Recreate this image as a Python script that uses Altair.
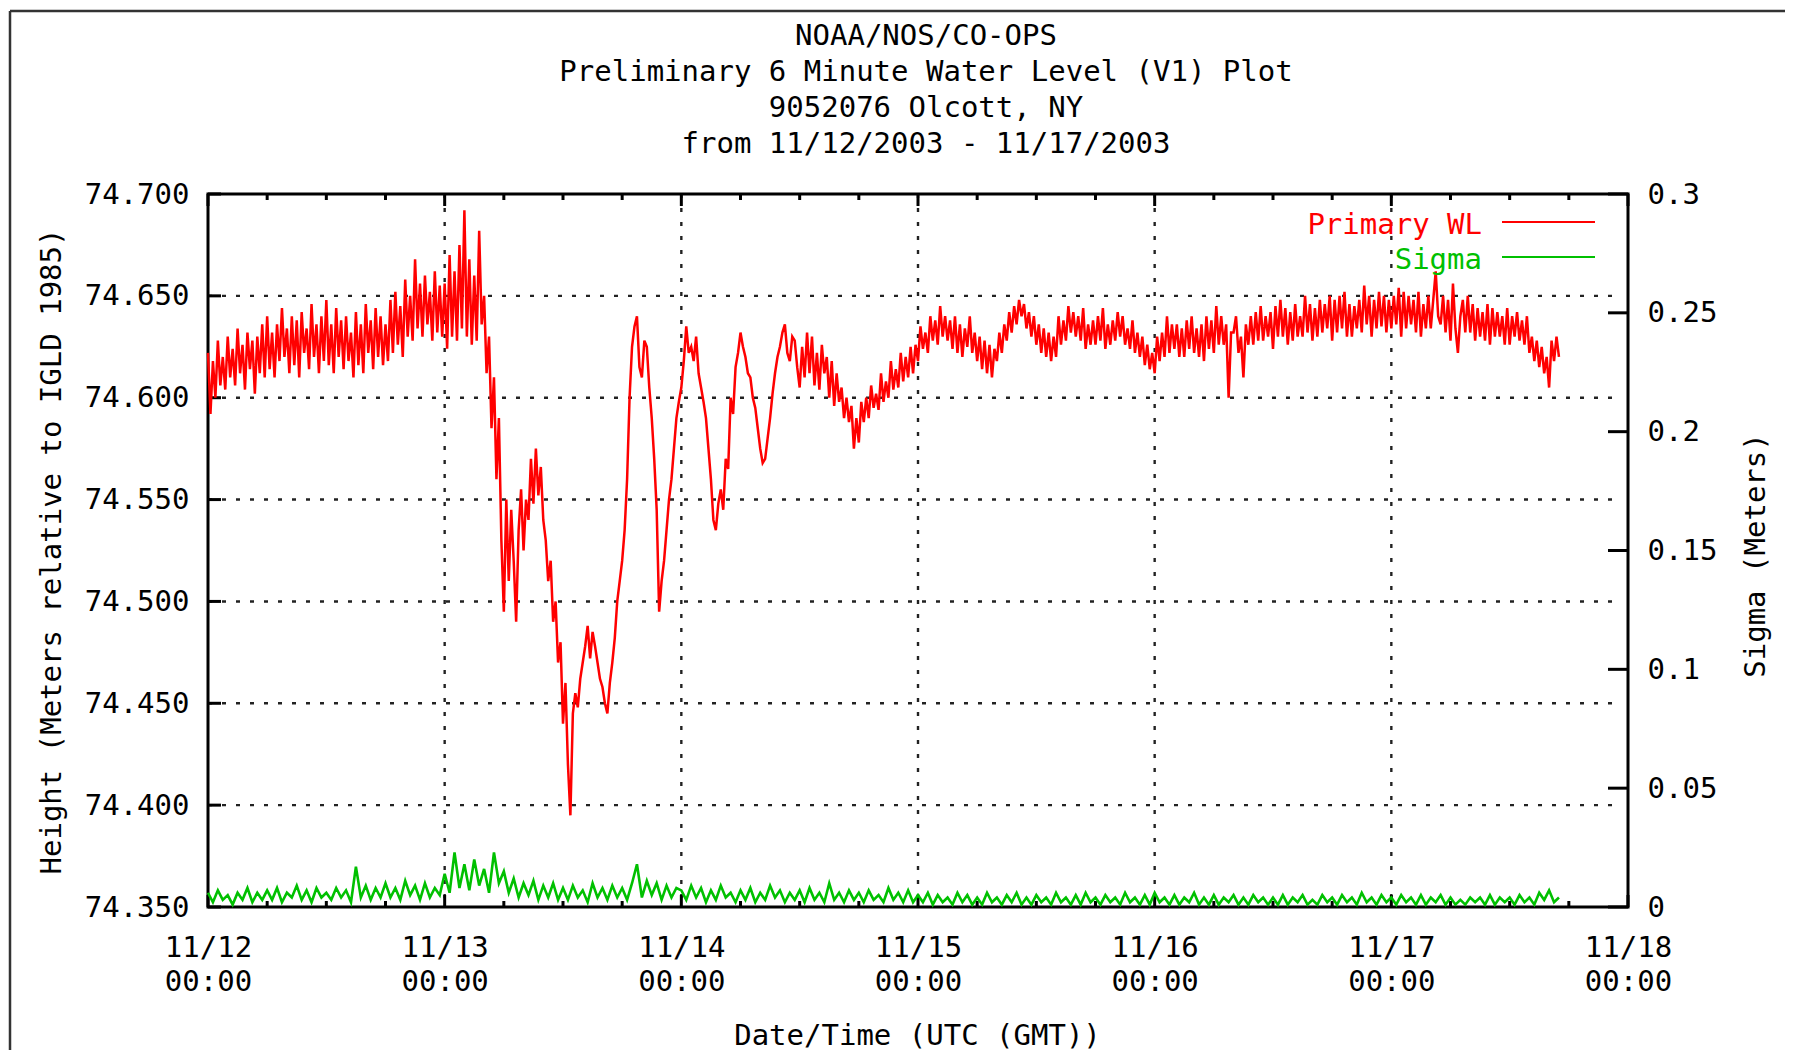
import altair as alt
import pandas as pd

MONO = "DejaVu Sans Mono"
FS = 29

TITLE_LINES = [
    "NOAA/NOS/CO-OPS",
    "Preliminary 6 Minute Water Level (V1) Plot",
    "9052076 Olcott, NY",
    "from 11/12/2003 - 11/17/2003",
]
X_TITLE = "Date/Time (UTC (GMT))"
Y_TITLE = "Height (Meters relative to IGLD 1985)"
Y2_TITLE = "Sigma (Meters)"

WL_STEP_HOURS = 0.25     # spacing of the read-off water-level samples, hours after 11/12 00:00
SIGMA_STEP_HOURS = 0.5   # spacing of the read-off sigma samples

# Primary water level (m, IGLD 1985), one row = 3 hours
WL = [
    74.622, 74.592, 74.618, 74.600, 74.628, 74.606, 74.620, 74.604, 74.630, 74.610, 74.624, 74.606,
    74.634, 74.612, 74.626, 74.604, 74.632, 74.614, 74.628, 74.602, 74.630, 74.612, 74.636, 74.610,
    74.640, 74.614, 74.632, 74.610, 74.636, 74.618, 74.644, 74.620, 74.634, 74.612, 74.640, 74.616,
    74.638, 74.610, 74.642, 74.622, 74.634, 74.614, 74.646, 74.620, 74.636, 74.612, 74.640, 74.618,
    74.648, 74.616, 74.636, 74.612, 74.644, 74.620, 74.638, 74.614, 74.640, 74.618, 74.632, 74.610,
    74.642, 74.616, 74.636, 74.612, 74.646, 74.622, 74.638, 74.614, 74.644, 74.620, 74.640, 74.616,
    74.636, 74.618, 74.648, 74.622, 74.652, 74.626, 74.645, 74.620, 74.658, 74.630, 74.650, 74.628,
    74.668, 74.634, 74.656, 74.630, 74.660, 74.636, 74.652, 74.628, 74.662, 74.632, 74.655, 74.630,
    74.656, 74.624, 74.670, 74.630, 74.662, 74.628, 74.675, 74.634, 74.692, 74.630, 74.668, 74.626,
    74.660, 74.628, 74.682, 74.636, 74.650, 74.612, 74.630, 74.585, 74.610, 74.560, 74.590, 74.530,
    74.495, 74.550, 74.510, 74.545, 74.520, 74.490, 74.535, 74.555, 74.525, 74.550, 74.540, 74.570,
    74.548, 74.575, 74.552, 74.566, 74.540, 74.530, 74.510, 74.520, 74.490, 74.500, 74.470, 74.480,
    74.440, 74.460, 74.420, 74.395, 74.445, 74.455, 74.448, 74.462, 74.470, 74.478, 74.488, 74.472,
    74.485, 74.478, 74.470, 74.462, 74.458, 74.450, 74.445, 74.460, 74.470, 74.482, 74.500, 74.510,
    74.520, 74.535, 74.560, 74.600, 74.625, 74.635, 74.640, 74.615, 74.610, 74.628, 74.625, 74.605,
    74.590, 74.570, 74.545, 74.495, 74.510, 74.520, 74.535, 74.550, 74.560, 74.575, 74.590, 74.598,
    74.605, 74.618, 74.635, 74.622, 74.625, 74.618, 74.630, 74.612, 74.605, 74.598, 74.590, 74.575,
    74.560, 74.540, 74.535, 74.548, 74.555, 74.545, 74.570, 74.565, 74.600, 74.592, 74.615, 74.622,
    74.632, 74.625, 74.620, 74.612, 74.610, 74.600, 74.595, 74.585, 74.575, 74.568, 74.570, 74.580,
    74.590, 74.602, 74.612, 74.620, 74.625, 74.632, 74.636, 74.622, 74.618, 74.630, 74.628, 74.615,
    74.605, 74.625, 74.610, 74.632, 74.612, 74.630, 74.606, 74.622, 74.604, 74.626, 74.612, 74.620,
    74.600, 74.618, 74.596, 74.612, 74.598, 74.605, 74.590, 74.600, 74.588, 74.596, 74.575, 74.590,
    74.578, 74.598, 74.588, 74.600, 74.590, 74.606, 74.595, 74.602, 74.594, 74.612, 74.598, 74.608,
    74.600, 74.618, 74.604, 74.614, 74.605, 74.622, 74.608, 74.620, 74.610, 74.625, 74.612, 74.626,
    74.618, 74.635, 74.624, 74.632, 74.622, 74.640, 74.628, 74.638, 74.626, 74.645, 74.630, 74.640,
    74.628, 74.638, 74.624, 74.640, 74.622, 74.636, 74.620, 74.634, 74.625, 74.640, 74.622, 74.632,
    74.618, 74.630, 74.614, 74.628, 74.612, 74.626, 74.610, 74.624, 74.618, 74.632, 74.622, 74.636,
    74.628, 74.642, 74.632, 74.645, 74.636, 74.648, 74.640, 74.646, 74.634, 74.642, 74.630, 74.640,
    74.626, 74.636, 74.622, 74.634, 74.620, 74.632, 74.618, 74.630, 74.620, 74.640, 74.626, 74.638,
    74.628, 74.645, 74.632, 74.642, 74.630, 74.640, 74.628, 74.644, 74.624, 74.636, 74.626, 74.638,
    74.626, 74.640, 74.628, 74.644, 74.624, 74.636, 74.626, 74.638, 74.628, 74.642, 74.630, 74.640,
    74.626, 74.634, 74.624, 74.638, 74.622, 74.632, 74.620, 74.630, 74.616, 74.626, 74.614, 74.622,
    74.612, 74.630, 74.618, 74.632, 74.620, 74.640, 74.622, 74.636, 74.624, 74.636, 74.620, 74.634,
    74.620, 74.638, 74.624, 74.640, 74.622, 74.634, 74.620, 74.636, 74.618, 74.640, 74.624, 74.638,
    74.622, 74.645, 74.626, 74.640, 74.626, 74.636, 74.600, 74.632, 74.632, 74.640, 74.622, 74.630,
    74.610, 74.636, 74.626, 74.640, 74.626, 74.642, 74.628, 74.645, 74.628, 74.640, 74.630, 74.642,
    74.624, 74.645, 74.630, 74.648, 74.630, 74.644, 74.626, 74.642, 74.628, 74.646, 74.630, 74.640,
    74.630, 74.650, 74.632, 74.646, 74.628, 74.644, 74.630, 74.648, 74.632, 74.646, 74.634, 74.650,
    74.628, 74.648, 74.632, 74.650, 74.634, 74.652, 74.630, 74.646, 74.630, 74.645, 74.634, 74.648,
    74.632, 74.655, 74.636, 74.650, 74.630, 74.648, 74.634, 74.652, 74.635, 74.650, 74.632, 74.648,
    74.634, 74.650, 74.636, 74.654, 74.630, 74.652, 74.634, 74.650, 74.636, 74.648, 74.632, 74.652,
    74.630, 74.646, 74.634, 74.650, 74.634, 74.648, 74.662, 74.640, 74.636, 74.650, 74.632, 74.648,
    74.628, 74.656, 74.634, 74.622, 74.640, 74.648, 74.632, 74.650, 74.632, 74.646, 74.628, 74.644,
    74.630, 74.642, 74.628, 74.646, 74.626, 74.644, 74.630, 74.642, 74.630, 74.640, 74.626, 74.644,
    74.626, 74.640, 74.630, 74.642, 74.628, 74.638, 74.626, 74.640, 74.622, 74.630, 74.618, 74.628,
    74.615, 74.625, 74.612, 74.620, 74.605, 74.628, 74.618, 74.630, 74.620,
]

# Sigma (m), one row = 6 hours
SIGMA = [
    0.006, 0.002, 0.007, 0.003, 0.005, 0.001, 0.006, 0.003, 0.008, 0.002, 0.006, 0.003,
    0.007, 0.003, 0.008, 0.002, 0.006, 0.004, 0.009, 0.003, 0.007, 0.002, 0.008, 0.004,
    0.006, 0.003, 0.008, 0.004, 0.007, 0.002, 0.017, 0.004, 0.009, 0.003, 0.008, 0.004,
    0.010, 0.004, 0.008, 0.003, 0.011, 0.005, 0.009, 0.003, 0.010, 0.004, 0.008, 0.005,
    0.014, 0.006, 0.023, 0.008, 0.018, 0.007, 0.020, 0.009, 0.016, 0.006, 0.023, 0.010,
    0.015, 0.006, 0.012, 0.004, 0.010, 0.005, 0.011, 0.003, 0.009, 0.004, 0.010, 0.003,
    0.008, 0.003, 0.009, 0.004, 0.007, 0.002, 0.010, 0.004, 0.008, 0.003, 0.009, 0.004,
    0.008, 0.003, 0.010, 0.018, 0.004, 0.011, 0.005, 0.010, 0.003, 0.009, 0.004, 0.008,
    0.007, 0.003, 0.009, 0.004, 0.008, 0.002, 0.007, 0.003, 0.009, 0.004, 0.006, 0.002,
    0.007, 0.003, 0.008, 0.002, 0.006, 0.003, 0.009, 0.004, 0.007, 0.002, 0.006, 0.003,
    0.007, 0.002, 0.008, 0.003, 0.006, 0.002, 0.010, 0.003, 0.006, 0.002, 0.007, 0.003,
    0.006, 0.002, 0.007, 0.003, 0.005, 0.002, 0.008, 0.003, 0.006, 0.002, 0.007, 0.002,
    0.005, 0.002, 0.006, 0.001, 0.005, 0.002, 0.004, 0.001, 0.006, 0.002, 0.005, 0.001,
    0.004, 0.001, 0.006, 0.002, 0.004, 0.001, 0.005, 0.002, 0.006, 0.001, 0.004, 0.001,
    0.005, 0.002, 0.004, 0.001, 0.006, 0.002, 0.004, 0.001, 0.005, 0.001, 0.006, 0.002,
    0.004, 0.001, 0.005, 0.002, 0.004, 0.001, 0.006, 0.002, 0.004, 0.001, 0.005, 0.001,
    0.006, 0.002, 0.004, 0.001, 0.005, 0.001, 0.004, 0.002, 0.006, 0.001, 0.004, 0.001,
    0.005, 0.001, 0.004, 0.002, 0.005, 0.001, 0.004, 0.001, 0.005, 0.002, 0.004, 0.001,
    0.004, 0.001, 0.005, 0.001, 0.004, 0.002, 0.005, 0.001, 0.003, 0.001, 0.005, 0.002,
    0.004, 0.001, 0.005, 0.002, 0.004, 0.001, 0.006, 0.002, 0.004, 0.001, 0.005, 0.002,
    0.004, 0.001, 0.005, 0.002, 0.004, 0.001, 0.005, 0.001, 0.004, 0.002, 0.005, 0.001,
    0.004, 0.001, 0.003, 0.001, 0.004, 0.002, 0.004, 0.001, 0.005, 0.001, 0.004, 0.002,
    0.004, 0.001, 0.005, 0.002, 0.004, 0.001, 0.006, 0.003, 0.007, 0.002, 0.004,
]

WL_TICKS = [74.35, 74.40, 74.45, 74.50, 74.55, 74.60, 74.65, 74.70]
WL_GRID = [74.40, 74.45, 74.50, 74.55, 74.60, 74.65]
SIGMA_TICKS = [0, 0.05, 0.1, 0.15, 0.2, 0.25, 0.3]
DAY_TICKS = [0, 24, 48, 72, 96, 120, 144]
DAY_GRID = [24, 48, 72, 96, 120]
SIX_HOUR_TICKS = [6, 12, 18, 30, 36, 42, 54, 60, 66, 78, 84, 90, 102, 108, 114, 126, 132, 138]
LEGEND = [("Primary WL", "#ff0000"), ("Sigma", "#00c000")]

W, H = 1420, 713

wl_df = pd.DataFrame({"h": [i * WL_STEP_HOURS for i in range(len(WL))], "wl": WL})
sig_df = pd.DataFrame({"h": [i * SIGMA_STEP_HOURS for i in range(len(SIGMA))], "sigma": SIGMA})

XS = alt.Scale(domain=[0, 144], nice=False, zero=False)
YL = alt.Scale(domain=[74.35, 74.70], nice=False, zero=False)
YR = alt.Scale(domain=[0, 0.3], nice=False, zero=False)

X_AXIS = alt.Axis(
    values=DAY_TICKS, ticks=False, tickSize=0, domain=False, grid=False,
    labelExpr="['11/' + (12 + datum.value / 24), '00:00']",
    labelFont=MONO, labelFontSize=FS, labelColor="black", labelLineHeight=34,
    labelBaseline="top", labelPadding=26, labelFlush=False, labelOverlap=False, labelBound=False,
    title=X_TITLE, titleFont=MONO, titleFontSize=FS, titleFontWeight="normal", titleColor="black",
    titleX=709, titleY=128, titleBaseline="middle", titleAlign="center", titleAngle=0,
)

def xenc(field="h"):
    return alt.X(f"{field}:Q", scale=XS, axis=X_AXIS)

grid_style = dict(color="#222222", strokeWidth=2.4, strokeDash=[4, 10])

hgrid = alt.Chart(pd.DataFrame({"v": WL_GRID})).mark_rule(**grid_style).encode(
    y=alt.Y("v:Q", scale=YL, axis=None), x=alt.value(0), x2=alt.value(W - 8)
)
vgrid = alt.Chart(pd.DataFrame({"h": DAY_GRID})).mark_rule(**grid_style).encode(
    x=xenc(), y=alt.value(0), y2=alt.value(H)
)

tick_style = dict(color="black", strokeWidth=3)
lticks = alt.Chart(pd.DataFrame({"v": WL_TICKS})).mark_rule(**tick_style).encode(
    y=alt.Y("v:Q", scale=YL, axis=None), x=alt.value(0), x2=alt.value(13)
)
rticks = alt.Chart(pd.DataFrame({"v": SIGMA_TICKS})).mark_rule(**tick_style).encode(
    y=alt.Y("v:Q", scale=YR, axis=None), x=alt.value(W - 20), x2=alt.value(W)
)
day_df = pd.DataFrame({"h": DAY_TICKS})
six_df = pd.DataFrame({"h": SIX_HOUR_TICKS})
xt = []
for df, ln in ((day_df, 12), (six_df, 6)):
    xt.append(alt.Chart(df).mark_rule(**tick_style).encode(x=xenc(), y=alt.value(H), y2=alt.value(H - ln)))
    xt.append(alt.Chart(df).mark_rule(**tick_style).encode(x=xenc(), y=alt.value(0), y2=alt.value(ln)))

red = alt.Chart(wl_df).mark_line(color="#ff0000", strokeWidth=2.5).encode(
    x=xenc(),
    y=alt.Y("wl:Q", scale=YL, axis=alt.Axis(
        orient="left", values=WL_TICKS, format=".3f", ticks=False, tickSize=0, domain=False, grid=False,
        labelFont=MONO, labelFontSize=FS, labelColor="black", labelPadding=19,
        labelBaseline="middle", labelAlign="right", labelFlush=False, labelOverlap=False, labelBound=False,
        title=Y_TITLE, titleFont=MONO, titleFontSize=FS, titleFontWeight="normal", titleColor="black",
        titleX=-157, titleY=357, titleAngle=270, titleAlign="center", titleBaseline="middle",
    )),
)
green = alt.Chart(sig_df).mark_line(color="#00c000", strokeWidth=2.6).encode(
    x=xenc(),
    y=alt.Y("sigma:Q", scale=YR, axis=alt.Axis(
        orient="right", values=SIGMA_TICKS, format="~g", ticks=False, tickSize=0, domain=False, grid=False,
        labelFont=MONO, labelFontSize=FS, labelColor="black", labelPadding=19,
        labelBaseline="middle", labelAlign="left", labelFlush=False, labelOverlap=False, labelBound=False,
        title=Y2_TITLE, titleFont=MONO, titleFontSize=FS, titleFontWeight="normal", titleColor="black",
        titleX=127, titleY=361, titleAngle=270, titleAlign="center", titleBaseline="middle",
    )),
)

legend_layers = []
for i, (lab, col) in enumerate(LEGEND):
    ly = 28 + i * 35
    legend_layers.append(
        alt.Chart(pd.DataFrame({"t": [lab]})).mark_text(
            font=MONO, fontSize=FS, color=col, align="right", baseline="middle"
        ).encode(text="t:N", x=alt.value(1274), y=alt.value(ly + 3))
    )
    legend_layers.append(
        alt.Chart(pd.DataFrame({"t": [lab]})).mark_rule(color=col, strokeWidth=2.2).encode(
            x=alt.value(1294), x2=alt.value(1387), y=alt.value(ly)
        )
    )

frame_top = alt.Chart(pd.DataFrame({"a": [0]})).mark_rule(color="#333333", strokeWidth=2.5).encode(
    x=alt.value(-198), x2=alt.value(1600), y=alt.value(-183)
)
frame_left = alt.Chart(pd.DataFrame({"a": [0]})).mark_rule(color="#333333", strokeWidth=2.5).encode(
    x=alt.value(-198), y=alt.value(-183), y2=alt.value(880)
)

chart = alt.layer(
    hgrid, vgrid, *xt, lticks, rticks, red, green, *legend_layers, frame_top, frame_left
).resolve_scale(y="independent").properties(
    width=W, height=H,
    background="white",
    autosize=alt.AutoSizeParams(type="none"),
    padding={"left": 200, "top": 186, "right": 157, "bottom": 143},
    title=alt.TitleParams(
        text=TITLE_LINES, font=MONO, fontSize=FS, fontWeight="normal", color="black",
        anchor="middle", lineHeight=36, offset=-149, dx=8,
    ),
).configure_view(stroke="black", strokeWidth=3)

chart.save("out.html", embed_options={"renderer": "svg", "actions": False})
